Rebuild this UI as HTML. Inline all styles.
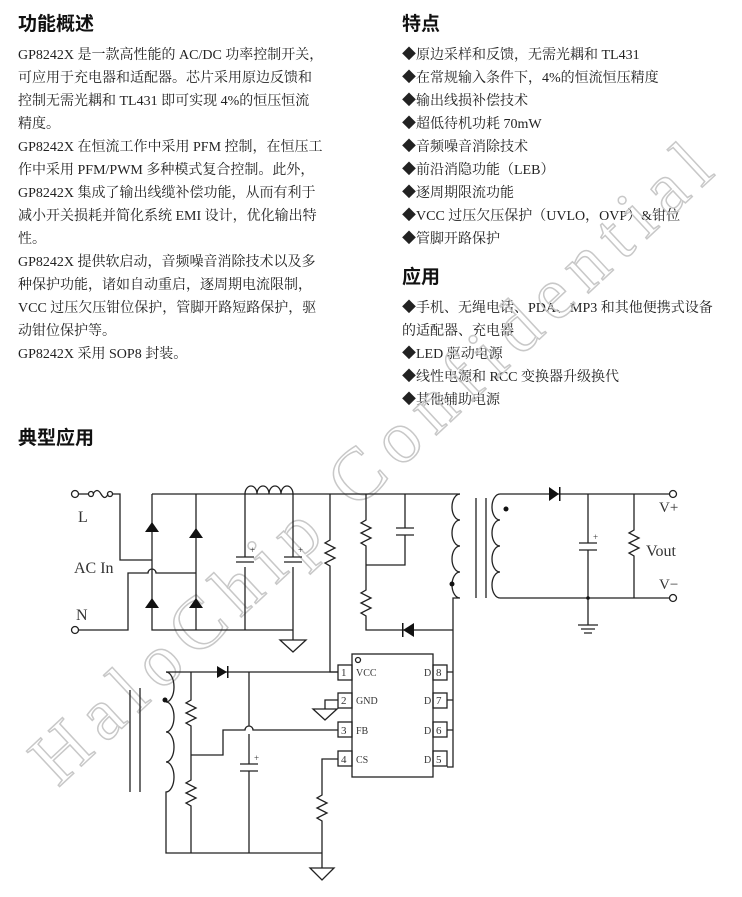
<!DOCTYPE html>
<html><head><meta charset="utf-8">
<style>
body{margin:0;background:#fff;width:742px;height:897px;overflow:hidden;position:relative;font-family:"Liberation Serif","Noto Serif CJK SC",serif;color:#222;}
.h{position:absolute;font-family:"Liberation Sans","Noto Sans CJK SC",sans-serif;font-weight:bold;font-size:19px;color:#111;}
.col{position:absolute;font-size:14px;line-height:23px;white-space:nowrap;}
svg{position:absolute;left:0;top:0;}
</style></head><body>
<div class="h" style="left:18px;top:9px">功能概述</div>
<div class="col" style="left:18px;top:44px">
<div>GP8242X 是一款高性能的 AC/DC 功率控制开关，</div>
<div>可应用于充电器和适配器。芯片采用原边反馈和</div>
<div>控制无需光耦和 TL431 即可实现 4%的恒压恒流</div>
<div>精度。</div>
<div>GP8242X 在恒流工作中采用 PFM 控制，在恒压工</div>
<div>作中采用 PFM/PWM 多种模式复合控制。此外，</div>
<div>GP8242X 集成了输出线缆补偿功能，从而有利于</div>
<div>减小开关损耗并简化系统 EMI 设计，优化输出特</div>
<div>性。</div>
<div>GP8242X 提供软启动，音频噪音消除技术以及多</div>
<div>种保护功能，诸如自动重启，逐周期电流限制，</div>
<div>VCC 过压欠压钳位保护，管脚开路短路保护，驱</div>
<div>动钳位保护等。</div>
<div>GP8242X 采用 SOP8 封装。</div>
</div>
<div class="h" style="left:402px;top:9px">特点</div>
<div class="col" style="left:402px;top:44px">
<div>◆原边采样和反馈，无需光耦和 TL431</div>
<div>◆在常规输入条件下，4%的恒流恒压精度</div>
<div>◆输出线损补偿技术</div>
<div>◆超低待机功耗 70mW</div>
<div>◆音频噪音消除技术</div>
<div>◆前沿消隐功能（LEB）</div>
<div>◆逐周期限流功能</div>
<div>◆VCC 过压欠压保护（UVLO，OVP）&amp;钳位</div>
<div>◆管脚开路保护</div>
</div>
<div class="h" style="left:402px;top:262px">应用</div>
<div class="col" style="left:402px;top:297px">
<div>◆手机、无绳电话、PDA、MP3 和其他便携式设备</div>
<div>的适配器、充电器</div>
<div>◆LED 驱动电源</div>
<div>◆线性电源和 RCC 变换器升级换代</div>
<div>◆其他辅助电源</div>
</div>
<div class="h" style="left:18px;top:423px">典型应用</div>

<svg width="742" height="897" viewBox="0 0 742 897">
<text x="0" y="0" transform="translate(58,788) rotate(-43)" font-family="Liberation Serif,serif" font-size="74" textLength="900" lengthAdjust="spacing" fill="none" stroke="#c8c8c8" stroke-width="1.5">HaloChip Confidential</text>
<g stroke="#222" stroke-width="1.3" fill="none">
<circle cx="75" cy="494" r="3.5"/>
<line x1="78.5" y1="494" x2="89" y2="494"/>
<circle cx="91" cy="494" r="2.5"/><circle cx="110" cy="494" r="2.5"/>
<path d="M93,494 q4,-7 8,0 q4,7 7,0"/>
<path d="M112.5,494 H120 V560 H152"/>
<circle cx="75" cy="630" r="3.5"/>
<path d="M78.5,630 H128 V573 H148 a4,4 0 0 1 8,0 H196"/>
<path d="M152,494 H460"/>
<path d="M152,494 V630 H293"/>
<path d="M196,494 V630"/>
<path d="M245,494 a6,8 0 0 1 12,0 a6,8 0 0 1 12,0 a6,8 0 0 1 12,0 a6,8 0 0 1 12,0"/>
<path d="M245,494 V557 M245,567 V630"/>
<path d="M293,494 V557 M293,567 V640"/>
<path d="M236,557 H254 M236,562 H254 M284,557 H302 M284,562 H302"/>
<path d="M280,640 H306 L293,652 Z"/>
<path d="M330,494 V540 l-5,3 10,5 -10,5 10,5 -10,5 5,3 V672 H338"/>
<path d="M366,494 V520 l-5,3 10,5 -10,5 10,5 -10,5 5,3 V590 l-5,3 10,5 -10,5 10,5 -10,5 5,3 V630 H453"/>
<path d="M405,494 V528 M405,535 V565 H366 M396,528 H414 M396,535 H414"/>
<path d="M460,494 a8,13 0 0 0 0,26 a8,13 0 0 0 0,26 a8,13 0 0 0 0,26 a8,13 0 0 0 0,26 H453 V767 H447"/>
<path d="M476,498 V598 M486,498 V598"/>
<path d="M500,494 a8,13 0 0 0 0,26 a8,13 0 0 0 0,26 a8,13 0 0 0 0,26 a8,13 0 0 0 0,26"/>
<path d="M500,494 H669 M500,598 H669"/>
<circle cx="673" cy="494" r="3.5"/><circle cx="673" cy="598" r="3.5"/>
<path d="M588,494 V543 M588,550 V625 M579,543 H597 M579,550 H597"/>
<path d="M578,625 H598 M581,629 H595 M584,633 H592"/>
<path d="M634,494 V530 l-5,3 10,5 -10,5 10,5 -10,5 5,3 V598"/>
<path d="M166,672 a8,15 0 0 1 0,30 a8,15 0 0 1 0,30 a8,15 0 0 1 0,30 a8,15 0 0 1 0,30 V853 H322"/>
<path d="M130,690 V792 M140,688 V792"/>
<path d="M166,672 H338"/>
<path d="M191,672 V700 l-5,3 10,5 -10,5 10,5 -10,5 5,3 V780 l-5,3 10,5 -10,5 10,5 -10,5 5,3 V853"/>
<path d="M191,755 H223 V730 H245 a4,4 0 0 1 8,0 H338"/>
<path d="M249,672 V726 M249,734 V764 M249,771 V853 M240,764 H258 M240,771 H258"/>
<path d="M338,700 H325 V709"/>
<path d="M313,709 H337 L325,720 Z"/>
<path d="M338,759 H322 V795 l-5,3 10,5 -10,5 10,5 -10,5 5,3 V868"/>
<path d="M310,868 H334 L322,880 Z"/>
<rect x="352" y="654" width="81" height="123"/>
<circle cx="358" cy="660" r="2.5"/>
<rect x="338" y="665" width="14" height="15"/><rect x="338" y="693" width="14" height="15"/>
<rect x="338" y="722" width="14" height="15"/><rect x="338" y="751" width="14" height="15"/>
<rect x="433" y="665" width="14" height="15"/><rect x="433" y="693" width="14" height="15"/>
<rect x="433" y="722" width="14" height="15"/><rect x="433" y="751" width="14" height="15"/>
<path d="M447,672 H453 M447,700 H453 M447,730 H453"/>
</g>
<g fill="#111">
<path d="M145,532 H159 L152,522 Z M189,538 H203 L196,528 Z M145,608 H159 L152,598 Z M189,608 H203 L196,598 Z"/>
<path d="M403,630 L414,623 V637 Z"/><rect x="402" y="623" width="1.5" height="14"/>
<path d="M549,487 L559,494 L549,501 Z"/><rect x="559" y="487" width="1.5" height="14"/>
<path d="M217,666 L227,672 L217,678 Z"/><rect x="227" y="666" width="1.5" height="12"/>
<circle cx="452" cy="584" r="2.5"/><circle cx="506" cy="509" r="2.5"/><circle cx="165" cy="700" r="2.5"/>
<circle cx="588" cy="598" r="1.8"/>
</g>
<g font-family="Liberation Serif,serif" fill="#333">
<text x="78" y="522" font-size="16">L</text>
<text x="74" y="573" font-size="16">AC In</text>
<text x="76" y="620" font-size="16">N</text>
<text x="659" y="512" font-size="15">V+</text>
<text x="646" y="556" font-size="16">Vout</text>
<text x="659" y="589" font-size="15">V−</text>
<g font-size="9">
<text x="250" y="553">+</text><text x="298" y="553">+</text>
<text x="593" y="540">+</text><text x="254" y="761">+</text>
</g>
<g font-size="11">
<text x="341" y="676">1</text><text x="341" y="704">2</text><text x="341" y="734">3</text><text x="341" y="763">4</text>
<text x="436" y="676">8</text><text x="436" y="704">7</text><text x="436" y="734">6</text><text x="436" y="763">5</text>
</g>
<g font-size="10">
<text x="356" y="676">VCC</text><text x="356" y="704">GND</text><text x="356" y="734">FB</text><text x="356" y="763">CS</text>
<text x="424" y="676">D</text><text x="424" y="704">D</text><text x="424" y="734">D</text><text x="424" y="763">D</text>
</g>
</g>
</svg>
</body></html>
